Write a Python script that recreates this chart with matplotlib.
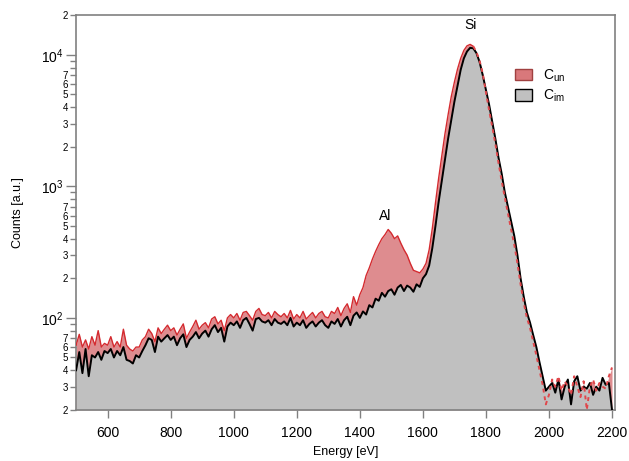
import numpy as np
import matplotlib
matplotlib.use("Agg")
import matplotlib.pyplot as plt
from matplotlib.patches import Patch
from matplotlib.ticker import FixedLocator, FuncFormatter

plt.rcParams['font.family'] = ['Liberation Sans', 'DejaVu Sans']

# energy grid (eV), 10 eV steps
energy = np.arange(500, 2201, 10)

# C_im spectrum (black line, gray fill)
c_im = [
    40, 55, 38, 58, 36, 52, 50, 55, 48, 56,
    54, 58, 50, 56, 52, 60, 48, 47, 45, 52,
    50, 56, 62, 70, 68, 55, 72, 66, 70, 74,
    68, 72, 62, 70, 75, 60, 68, 72, 78, 70,
    76, 80, 72, 82, 88, 78, 84, 66, 86, 92,
    88, 94, 84, 96, 100, 90, 80, 98, 100, 94,
    92, 96, 88, 98, 92, 90, 94, 88, 100, 86,
    92, 88, 96, 84, 90, 94, 86, 92, 96, 88,
    84, 94, 90, 98, 86, 96, 102, 88, 104, 110,
    100, 112, 106, 125, 120, 140, 135, 155, 145, 160,
    165, 150, 170, 178, 160, 176, 170, 158, 180, 172,
    200, 215, 250, 340, 500, 760, 1100, 1600, 2300, 3200,
    4400, 5800, 7700, 9400, 10600, 11300, 11200, 10300, 8800, 7000,
    5400, 4200, 3100, 2300, 1650, 1250, 900, 700, 540, 420,
    300, 200, 145, 110, 92, 74, 60, 46, 36, 28,
    30, 32, 27, 34, 24, 30, 34, 22, 33, 36,
    28, 30, 29, 32, 26, 30, 28, 35, 31, 32,
    20,
]

# C_un spectrum (red line, red fill)
c_un = [
    62, 75, 60, 68, 58, 72, 62, 80, 60, 64,
    62, 72, 60, 66, 60, 82, 62, 58, 56, 60,
    60, 68, 72, 82, 76, 66, 84, 76, 82, 88,
    80, 84, 74, 82, 90, 70, 78, 86, 96, 82,
    88, 92, 84, 98, 102, 90, 96, 80, 100, 106,
    100, 108, 96, 110, 112, 104, 96, 112, 118, 106,
    104, 110, 100, 112, 106, 102, 108, 100, 114, 98,
    106, 100, 112, 98, 104, 110, 100, 108, 112, 102,
    100, 112, 108, 120, 104, 118, 128, 110, 145, 125,
    150, 170, 210, 240, 280, 320, 360, 400, 430, 470,
    440, 400, 420, 370, 330, 300, 260, 230, 225, 220,
    235, 260, 330, 480, 750, 1150, 1700, 2500, 3500, 4800,
    6200, 7800, 9400, 10800, 11700, 12000, 11600, 10500, 9000, 7200,
    5200, 3800, 2850, 2100, 1500, 1100, 820, 620, 470, 360,
    260, 180, 130, 100, 84, 66, 52, 40, 31, 22,
    26, 34, 30, 36, 28, 33, 30, 26, 36, 30,
    25, 33, 20, 30, 34, 28, 32, 30, 29, 36,
    42,
]

c_im = np.array(c_im, dtype=float)
c_un = np.array(c_un, dtype=float)

fig = plt.figure(figsize=(6.29, 4.61), dpi=100)
ax = fig.add_axes([0.121, 0.111, 0.857, 0.856])

base = 20
ax.fill_between(energy, base, c_un, color='#d9787b', alpha=0.85, lw=0, zorder=1)
ax.fill_between(energy, base, c_im, color='#c0c0c0', lw=0, zorder=2)

# red line: solid up to the Si peak, dashed on the falling side
left = energy <= 1760
right = energy >= 1760
ax.plot(energy[left], c_un[left], color='#d42a2f', lw=1.0, zorder=3)
ax.plot(energy[right], c_un[right], color='#e0474b', lw=1.4,
        ls=(0, (2, 2)), zorder=5)
ax.plot(energy, c_im, color='black', lw=1.4, zorder=4)

ax.set_yscale('log')
ax.set_xlim(500, 2210)
ax.set_ylim(20, 20000)

ax.set_xticks(np.arange(600, 2201, 200))
ax.tick_params(axis='x', direction='out', length=6, width=1, color='#808080',
               labelsize=10, pad=6)

# y ticks: decades with superscripts, minors labelled 2..7
minors = []
for d in [10, 100, 1000, 10000]:
    for m in range(2, 10):
        v = m * d
        if 20 <= v <= 20000:
            minors.append(v)
ax.yaxis.set_major_locator(FixedLocator([100, 1000, 10000]))
ax.yaxis.set_minor_locator(FixedLocator(minors))
ax.yaxis.set_major_formatter(
    FuncFormatter(lambda v, p: r'$\mathregular{10^{%d}}$' % round(np.log10(v))))


def minor_fmt(v, p):
    m = int(round(v / 10 ** np.floor(np.log10(v) + 1e-9)))
    return str(m) if m <= 7 else ''


ax.yaxis.set_minor_formatter(FuncFormatter(minor_fmt))
ax.tick_params(axis='y', which='major', direction='out', length=7, width=1,
               color='#808080', labelsize=10, pad=2)
ax.tick_params(axis='y', which='minor', direction='out', length=4, width=1,
               color='#808080', labelsize=7, pad=2)

for s in ax.spines.values():
    s.set_color('#808080')
    s.set_linewidth(1.2)

ax.set_xlabel('Energy [eV]', fontsize=9)
ax.set_ylabel('Counts [a.u.]', fontsize=9, labelpad=12)

ax.text(1750, 16900, 'Si', fontsize=10, ha='center', va='center')
ax.text(1480, 600, 'Al', fontsize=10, ha='center', va='center')

handles = [Patch(facecolor='#d9787b', edgecolor='#a04040', label=r'C$_{\mathregular{un}}$'),
           Patch(facecolor='#c0c0c0', edgecolor='black', label=r'C$_{\mathregular{im}}$')]
ax.legend(handles=handles, loc='upper right', bbox_to_anchor=(0.93, 0.9),
          frameon=False, fontsize=10, handlelength=1.2, handleheight=0.9,
          labelspacing=0.3, handletextpad=0.8)

fig.savefig('out.png', dpi=100)
